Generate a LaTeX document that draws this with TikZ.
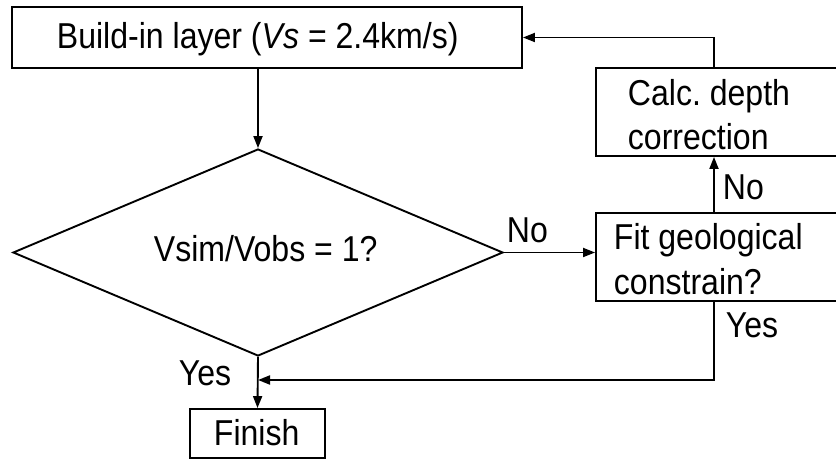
\documentclass[tikz,border=0pt]{standalone}
\usepackage{fontspec}
\setmainfont{Liberation Sans}[FakeStretch=0.89]
\usetikzlibrary{arrows.meta,shapes.geometric}
\frenchspacing
\begin{document}
\begin{tikzpicture}[x=1pt,y=-1pt, line width=1.9pt,
  box/.style={draw, rectangle, inner sep=0pt},
  lbl/.style={inner sep=0pt, anchor=base west, font=\fontsize{36}{44}\selectfont},
  arr/.style={-{Triangle[length=12pt,width=9pt]}}]
\useasboundingbox (0,0) rectangle (836,462);
\clip (0,0) rectangle (836,462);
% boxes
\node[box, minimum width=510pt, minimum height=61pt] (top) at (267,37.5) {};
\node[draw, diamond, minimum width=490pt, minimum height=207pt, inner sep=0pt] (dia) at (258,252.5) {};
\node[box, minimum width=244pt, minimum height=88pt] (calc) at (718,112) {};
\node[box, minimum width=244pt, minimum height=88pt] (fit) at (718,257) {};
\node[box, minimum width=135pt, minimum height=49pt] (fin) at (257.5,433.5) {};
% texts
\node[lbl] (toptext) at (56,49) {Build-in layer (\textit{Vs} = 2.4km/s)};
\node[lbl] (diatext) at (153,262) {Vsim/Vobs = 1?};
\node[lbl] (calc1) at (627,106) {Calc. depth};
\node[lbl] (calc2) at (627,150) {correction};
\node[lbl] (fit1) at (613,250) {Fit geological};
\node[lbl] (fit2) at (613,295) {constrain?};
\node[lbl] (fintext) at (213,446) {Finish};
\node[lbl] (no1) at (506,243) {No};
\node[lbl] (no2) at (722,200) {No};
\node[lbl] (yes1) at (725,338) {Yes};
\node[lbl] (yes2) at (178,386) {Yes};
% helper coordinates
\coordinate (vx) at (714,0);
\coordinate (join) at (258,380);
% connectors
\draw[arr] (top.south -| dia.north) -- (dia.north);
\draw[arr] (dia.east) -- (dia.east -| fit.west);
\draw[arr] (fit.north -| vx) -- (calc.south -| vx);
\draw[arr] (calc.north -| vx) |- (top.east);
\draw[arr] (fit.south -| vx) |- (join);
\draw[arr] (dia.south) -- (fin.north);
\end{tikzpicture}
\end{document}
